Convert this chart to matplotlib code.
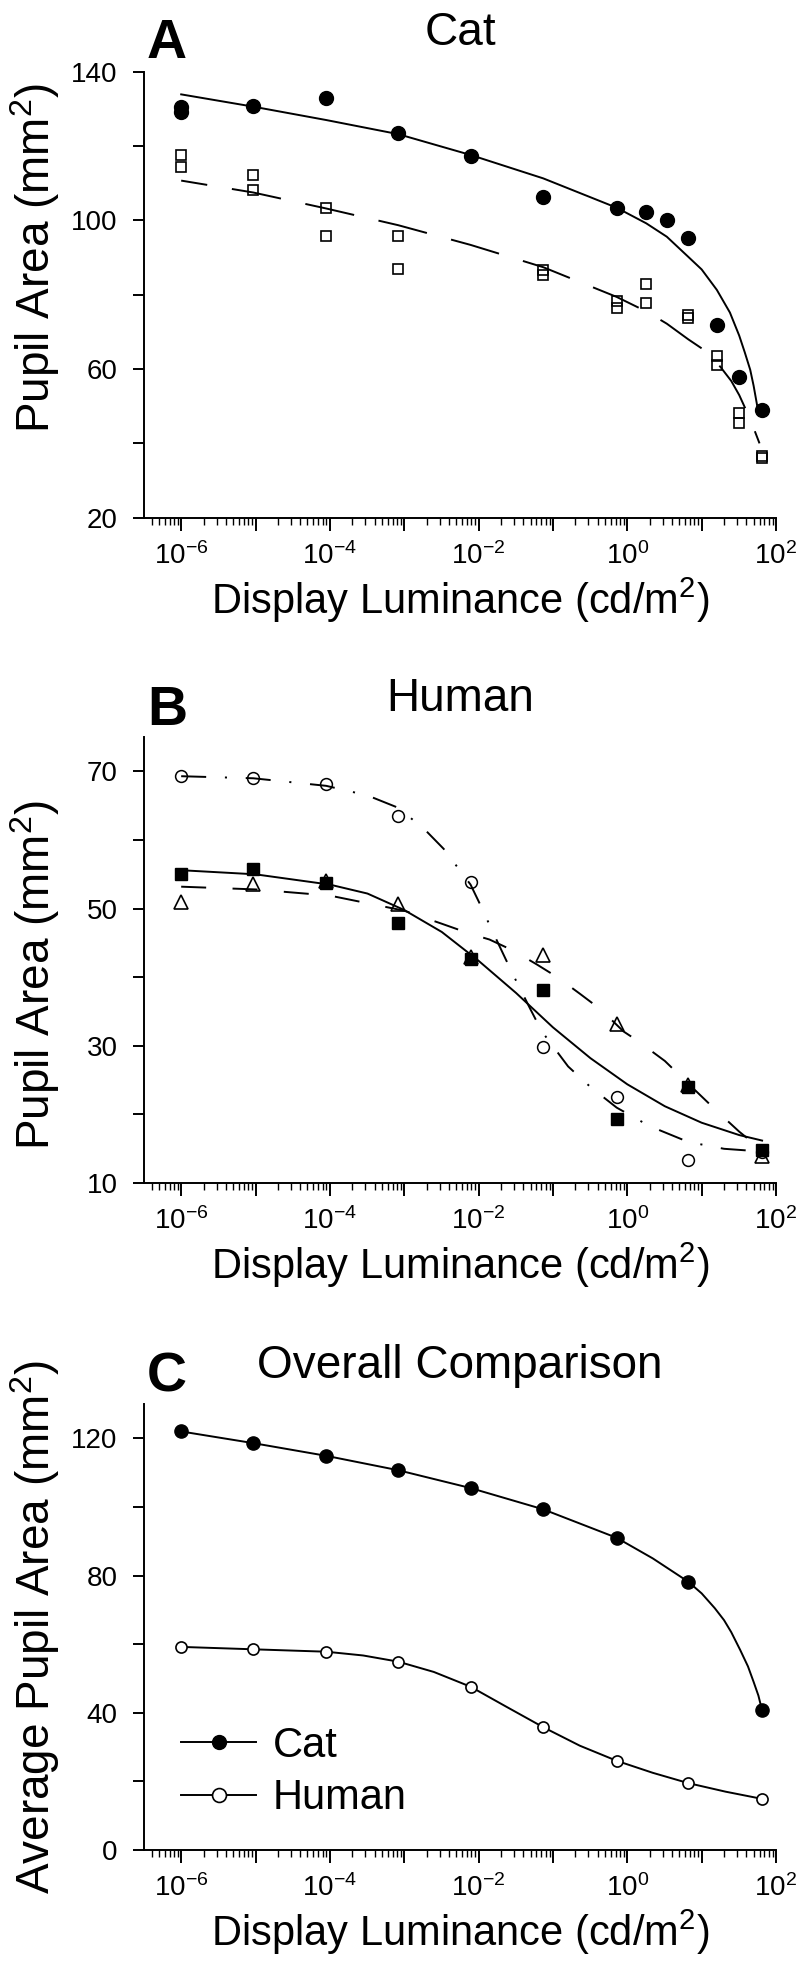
import matplotlib
matplotlib.use("Agg")
import matplotlib.pyplot as plt
import numpy as np
from matplotlib.lines import Line2D
from matplotlib.ticker import FixedLocator, FixedFormatter, LogLocator, NullFormatter

plt.rcParams["font.family"] = ["Liberation Sans", "DejaVu Sans"]
plt.rcParams["mathtext.fontset"] = "custom"
plt.rcParams["mathtext.rm"] = "Liberation Sans"
plt.rcParams["mathtext.it"] = "Liberation Sans:italic"
plt.rcParams["mathtext.bf"] = "Liberation Sans:bold"
plt.rcParams["lines.scale_dashes"] = False

# ---------------- data (luminance in cd/m^2, area in mm^2) ----------------
# Panel A - cat
cat_pts_lum = [1.0e-6, 1.0e-6, 9.3e-6, 8.9e-5, 8.3e-4, 7.8e-3, 7.4e-2, 0.72,
               1.8, 3.4, 6.6, 16.0, 32.0, 65.0]
cat_pts_area = [130.6, 129.2, 130.8, 133.0, 123.4, 117.3, 106.4, 103.4,
                102.2, 100.0, 95.3, 71.8, 57.9, 49.0]
cat_sq_lum = [1.0e-6, 1.0e-6, 9.3e-6, 9.3e-6, 8.9e-5, 8.9e-5, 8.3e-4, 8.3e-4,
              7.4e-2, 7.4e-2, 0.72, 0.72, 1.8, 1.8, 6.6, 6.6, 16.0, 16.0,
              32.0, 32.0, 65.0, 65.0]
cat_sq_area = [117.6, 114.4, 112.2, 108.2, 103.4, 95.9, 95.9, 86.8,
               86.7, 85.3, 78.3, 76.3, 82.9, 77.9, 74.5, 73.6, 63.5, 61.1,
               48.1, 45.6, 36.6, 36.0]
cat_fit1_lum = [1.0e-6, 9.3e-6, 8.9e-5, 8.3e-4, 7.8e-3, 7.4e-2, 0.72, 1.8,
                3.4, 6.6, 10.0, 16.0, 24.0, 32.0, 38.0, 45.0, 50.0, 56.0]
cat_fit1_area = [133.9, 130.6, 127.0, 123.2, 117.6, 111.3, 103.4, 99.2,
                 95.6, 90.2, 86.8, 81.3, 75.2, 69.0, 64.5, 59.8, 55.5, 50.0]
cat_fit2_lum = [1.0e-6, 9.3e-6, 8.9e-5, 8.3e-4, 7.8e-3, 7.4e-2, 0.72, 1.8,
                3.4, 6.6, 12.0, 18.0, 25.0, 32.0, 45.0, 60.0]
cat_fit2_area = [110.7, 107.5, 103.2, 98.7, 93.4, 87.4, 79.4, 75.5,
                 72.2, 68.0, 64.5, 60.5, 56.8, 53.0, 46.5, 40.0]

# Panel B - human (three subjects)
hum_lum = [1.0e-6, 9.3e-6, 8.9e-5, 8.3e-4, 7.8e-3, 7.4e-2, 0.72, 6.6, 65.0]
hum_circ = [69.3, 69.1, 68.1, 63.5, 53.9, 29.8, 22.5, 13.4, 14.5]
hum_sq = [55.1, 55.8, 53.7, 47.9, 42.7, 38.2, 19.3, 24.0, 14.8]
hum_tri = [51.0, 53.6, 54.0, 50.7, 43.0, 43.3, 33.2, 24.3, 14.0]
hum_sq_fit_lum = [1e-6, 1e-5, 1e-4, 3.2e-4, 1e-3, 3.2e-3, 1e-2, 3.2e-2, 0.1,
                  0.32, 1.0, 3.2, 10.0, 32.0, 65.0]
hum_sq_fit = [55.6, 55.0, 53.5, 52.2, 49.8, 46.6, 42.4, 37.7, 32.7,
              28.2, 24.4, 21.2, 18.8, 17.0, 16.2]
hum_tri_fit_lum = [1e-6, 1e-5, 1e-4, 1e-3, 3.2e-3, 7.9e-3, 1.4e-2, 2.9e-2,
                   6.0e-2, 0.115, 0.23, 0.44, 0.89, 1.35, 3.2, 6.6, 16.0,
                   32.0, 65.0]
hum_tri_fit = [53.2, 52.8, 51.9, 49.7, 47.8, 46.3, 45.5, 43.9, 41.9, 40.0,
               37.6, 35.3, 32.1, 30.8, 27.8, 24.5, 20.5, 17.5, 14.8]
hum_circ_fit_lum = [1e-6, 9.3e-6, 8.9e-5, 3.2e-4, 8.3e-4, 1.9e-3, 3.4e-3,
                    7.8e-3, 1.05e-2, 1.6e-2, 2.9e-2, 5.0e-2, 7.1e-2, 0.16,
                    0.32, 0.72, 2.0, 6.6, 20.0, 65.0]
hum_circ_fit = [69.3, 69.0, 67.9, 66.5, 64.7, 61.5, 58.7, 53.5, 50.6, 46.3,
                40.4, 35.3, 32.1, 27.0, 24.0, 21.0, 18.3, 16.0, 15.0, 14.6]

# Panel C - averages
avg_lum = [1.0e-6, 9.3e-6, 8.9e-5, 8.3e-4, 7.8e-3, 7.4e-2, 0.72, 6.6, 65.0]
avg_cat = [122.0, 118.6, 114.9, 110.7, 105.5, 99.3, 91.0, 78.2, 40.7]
avg_hum = [59.2, 58.5, 57.8, 54.9, 47.6, 35.8, 26.0, 19.5, 14.9]
avg_cat_line_lum = [1.0e-6, 9.3e-6, 8.9e-5, 8.3e-4, 7.8e-3, 7.4e-2, 0.72, 2.2,
                    6.6, 10.0, 15.0, 20.0, 25.0, 33.0, 42.0, 50.0, 58.0, 65.0]
avg_cat_line = [122.0, 118.6, 114.9, 110.7, 105.5, 99.3, 91.0, 85.0,
                78.2, 74.8, 70.5, 67.0, 63.5, 58.3, 53.5, 49.0, 45.0, 40.7]
avg_hum_line_lum = [1.0e-6, 9.3e-6, 8.9e-5, 2.8e-4, 8.3e-4, 2.5e-3, 7.8e-3,
                    2.3e-2, 7.4e-2, 0.23, 0.72, 2.2, 6.6, 21.0, 65.0]
avg_hum_line = [59.2, 58.5, 57.8, 56.7, 54.9, 51.9, 47.6, 41.9, 35.8, 30.4,
                26.0, 22.5, 19.5, 17.0, 14.9]

x_major = [1e-6, 1e-5, 1e-4, 1e-3, 1e-2, 1e-1, 1e0, 1e1, 1e2]
x_labels = [r"$\mathregular{10^{-6}}$", "", r"$\mathregular{10^{-4}}$", "",
            r"$\mathregular{10^{-2}}$", "", r"$\mathregular{10^{0}}$", "",
            r"$\mathregular{10^{2}}$"]

XLABEL = r"Display Luminance (cd/m$^{2}$)"

# ---------------- figure ----------------
W, H = 798, 1962
fig = plt.figure(figsize=(W / 100, H / 100), dpi=100)

AX_L = 144 / W
AX_W = 632 / W
AX_H = 446 / H
ax_a = fig.add_axes([AX_L, 1 - 517.7 / H, AX_W, AX_H])
ax_b = fig.add_axes([AX_L, 1 - 1183.1 / H, AX_W, AX_H])
ax_c = fig.add_axes([AX_L, 1 - 1850 / H, AX_W, AX_H])


def style(ax, ylim, yticks, ylabels, ylabel, ylab_y, title):
    ax.set_xscale("log")
    ax.set_xlim(10 ** -6.5, 1e2)
    ax.set_ylim(*ylim)
    for s in ("top", "right"):
        ax.spines[s].set_visible(False)
    for s in ("left", "bottom"):
        ax.spines[s].set_linewidth(1.4)
    ax.xaxis.set_major_locator(FixedLocator(x_major))
    ax.xaxis.set_major_formatter(FixedFormatter(x_labels))
    ax.xaxis.set_minor_locator(LogLocator(base=10, subs=np.arange(2, 10), numticks=100))
    ax.xaxis.set_minor_formatter(NullFormatter())
    ax.set_yticks(yticks, labels=ylabels)
    ax.tick_params(axis="x", which="major", length=9.5, width=1.4, labelsize=20, pad=8)
    ax.tick_params(axis="x", which="minor", length=5, width=1.0)
    ax.tick_params(axis="y", which="major", length=8, width=1.4, labelsize=20, pad=11)
    ax.set_xlabel(XLABEL, fontsize=30, labelpad=4)
    ax.set_ylabel(ylabel, fontsize=33)
    ax.yaxis.set_label_coords(-0.13, ylab_y)
    ax.set_title(title, fontsize=33, pad=19)


# ---- Panel A ----
ax_a.plot(cat_fit1_lum, cat_fit1_area, color="k", lw=1.4, zorder=2)
ax_a.plot(cat_fit2_lum, cat_fit2_area, color="k", lw=1.4,
          linestyle=(17, (36, 18)), zorder=2)
ax_a.plot(cat_pts_lum, cat_pts_area, "o", color="k", ms=10, zorder=3)
ax_a.plot(cat_sq_lum, cat_sq_area, "s", mfc="none", mec="k", mew=1.2, ms=7.5, zorder=3)
style(ax_a, (20, 140), [20, 40, 60, 80, 100, 120, 140],
      ["20", "", "60", "", "100", "", "140"],
      r"Pupil Area (mm$^{2}$)", 0.582, "Cat")

# ---- Panel B ----
ax_b.plot(hum_sq_fit_lum, hum_sq_fit, color="k", lw=1.4, zorder=2)
ax_b.plot(hum_tri_fit_lum, hum_tri_fit, color="k", lw=1.4,
          linestyle=(0, (18, 19)), zorder=2)
ax_b.plot(hum_circ_fit_lum, hum_circ_fit, color="k", lw=1.4,
          linestyle=(0, (18, 13.5, 1.5, 13.5)), zorder=2)
ax_b.plot(hum_lum, hum_circ, "o", mfc="none", mec="k", mew=1.1, ms=8.5, zorder=3)
ax_b.plot(hum_lum, hum_sq, "s", color="k", ms=9, zorder=3)
ax_b.plot(hum_lum, hum_tri, "^", mfc="none", mec="k", mew=1.2, ms=10.5, zorder=3)
style(ax_b, (10, 75), [10, 20, 30, 40, 50, 60, 70],
      ["10", "", "30", "", "50", "", "70"],
      r"Pupil Area (mm$^{2}$)", 0.467, "Human")

# ---- Panel C ----
ax_c.plot(avg_cat_line_lum, avg_cat_line, color="k", lw=1.4, zorder=2)
ax_c.plot(avg_hum_line_lum, avg_hum_line, color="k", lw=1.4, zorder=2)
ax_c.plot(avg_lum, avg_cat, "o", color="k", ms=9.5, zorder=3)
ax_c.plot(avg_lum, avg_hum, "o", mfc="white", mec="k", mew=1.2, ms=8, zorder=3)
style(ax_c, (0, 130), [0, 20, 40, 60, 80, 100, 120],
      ["0", "", "40", "", "80", "", "120"],
      r"Average Pupil Area (mm$^{2}$)", 0.5, "Overall Comparison")

handles = [
    Line2D([], [], color="k", lw=1.4, marker="o", ms=10, mfc="k"),
    Line2D([], [], color="k", lw=1.4, marker="o", ms=10, mfc="white", mew=1.2),
]
ax_c.legend(handles, ["Cat", "Human"], loc="center left",
            bbox_to_anchor=(0.0586, 0.175), frameon=False, fontsize=30,
            handlelength=1.8, handletextpad=0.4, labelspacing=0.3,
            borderpad=0, borderaxespad=0)

# panel letters
for letter, base_y in (("A", 58), ("B", 725), ("C", 1392)):
    fig.text(147 / W, 1 - base_y / H, letter, fontsize=40, fontweight="bold",
             ha="left", va="baseline")

fig.savefig("out.png", dpi=100)
